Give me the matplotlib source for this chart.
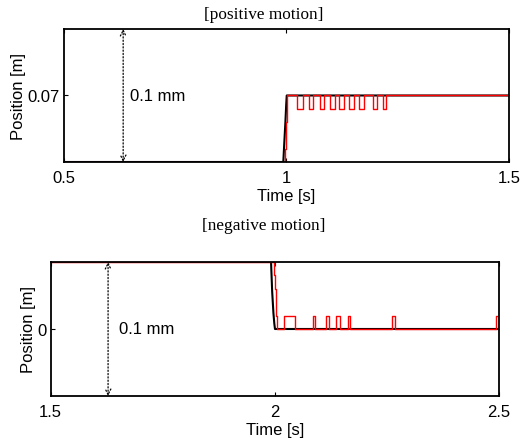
import matplotlib
matplotlib.use("Agg")
import matplotlib.pyplot as plt
import numpy as np

# ---------------- data ----------------
# positive motion (top)
pos_xticks = [0.5, 1.0, 1.5]
pos_xticklabels = ["0.5", "1", "1.5"]
pos_yticks = [0.07]
pos_yticklabels = ["0.07"]
pos_ylim = (0.06995, 0.07005)

pos_ref_t = [0.5, 0.9929, 0.9952, 0.9976, 0.9994, 1.0006, 1.5]
pos_ref_y = [0.06995, 0.06995, 0.069965, 0.06998, 0.069993, 0.07, 0.07]

pos_rise_t = [0.9966, 0.9976, 0.9986, 0.9997, 1.0008, 1.0018]
pos_rise_y = [0.06995, 0.06996, 0.06997, 0.06998, 0.06999, 0.07000]
pos_pulse_start = [1.0236, 1.0506, 1.0760, 1.0978, 1.1191, 1.1416, 1.1629, 1.1951, 1.2164]
pos_pulse_end = [1.0378, 1.0596, 1.0854, 1.1090, 1.1303, 1.1517, 1.1742, 1.2045, 1.2247]
pos_pulse_level = 0.06999
pos_final = 0.07

# negative motion (bottom)
neg_xticks = [1.5, 2.0, 2.5]
neg_xticklabels = ["1.5", "2", "2.5"]
neg_yticks = [0.0]
neg_yticklabels = ["0"]
neg_ylim = (-5e-5, 5e-5)

neg_ref_t = [1.5, 1.9915, 1.9940, 1.9968, 1.9988, 2.0003, 2.5]
neg_ref_y = [5e-5, 5e-5, 2.8e-5, 1.2e-5, 0.4e-5, 0.0, 0.0]

neg_fall_t = [1.9980, 1.9992, 2.0004, 2.0016, 2.0027, 2.0037]
neg_fall_y = [5e-5, 4e-5, 3e-5, 2e-5, 1e-5, 0.0]
neg_pulse_start = [2.0204, 2.0844, 2.1141, 2.1364, 2.1638, 2.2607, 2.4926]
neg_pulse_end = [2.0443, 2.0896, 2.1201, 2.1453, 2.1683, 2.2680, 2.4995]
neg_pulse_level = 1e-5
neg_final = 0.0

arrow_label = "0.1 mm"

# ---------------- helpers ----------------
def build_steps(t0, y0, ramp_t, ramp_y, starts, ends, level, final, t_end):
    ts = [t0]
    ys = [y0]
    ts += list(ramp_t)
    ys += list(ramp_y)
    for s, e in zip(starts, ends):
        ts += [s, e]
        ys += [level, final]
    ts.append(t_end)
    ys.append(final)
    return ts, ys

SANS = ["Liberation Sans", "DejaVu Sans"]
SERIF = ["Liberation Serif", "DejaVu Serif"]
FS = 12

fig = plt.figure(figsize=(5.21, 4.39), dpi=100)

def style_axes(ax, xticks, xtl, yticks, ytl):
    ax.set_xticks(xticks)
    ax.set_xticklabels(xtl, family=SANS, fontsize=FS)
    ax.set_yticks(yticks)
    ax.set_yticklabels(ytl, family=SANS, fontsize=FS)
    ax.tick_params(direction="in", top=True, right=True, length=3, width=0.8)
    ax.tick_params(axis="x", pad=6)
    ax.tick_params(axis="y", pad=3)
    for sp in ax.spines.values():
        sp.set_linewidth(1.3)
    ax.set_xlabel("Time [s]", family=SANS, fontsize=FS, labelpad=2)
    ax.set_ylabel("Position [m]", family=SANS, fontsize=FS, labelpad=1)

# top axes
ax1 = fig.add_axes([0.1228, 0.6287, 0.8541, 0.3030])
ax1.plot(pos_ref_t, pos_ref_y, color="black", lw=1.5, clip_on=True)
t, y = build_steps(0.5, pos_ylim[0], pos_rise_t, pos_rise_y, pos_pulse_start,
                   pos_pulse_end, pos_pulse_level, pos_final, 1.5)
ax1.plot(t, y, color="#ff0000", lw=1.0, drawstyle="steps-post")
ax1.set_xlim(0.5, 1.5)
ax1.set_ylim(*pos_ylim)
style_axes(ax1, pos_xticks, pos_xticklabels, pos_yticks, pos_yticklabels)
ax1.annotate("", xy=(0.633, 1.0), xytext=(0.633, 0.0),
             xycoords=("data", "axes fraction"), textcoords=("data", "axes fraction"),
             arrowprops=dict(arrowstyle="<->", linestyle=":", lw=0.9, color="black",
                             shrinkA=0, shrinkB=0))
ax1.text(0.648, 0.07, arrow_label, family=SANS, fontsize=FS, va="center", ha="left")

# bottom axes
ax2 = fig.add_axes([0.0973, 0.0957, 0.8605, 0.3052])
ax2.plot(neg_ref_t, neg_ref_y, color="black", lw=1.5)
t, y = build_steps(1.5, neg_ylim[1], neg_fall_t, neg_fall_y, neg_pulse_start,
                   neg_pulse_end, neg_pulse_level, neg_final, 2.5)
ax2.plot(t, y, color="#ff0000", lw=1.0, drawstyle="steps-post")
ax2.set_xlim(1.5, 2.5)
ax2.set_ylim(*neg_ylim)
style_axes(ax2, neg_xticks, neg_xticklabels, neg_yticks, neg_yticklabels)
ax2.annotate("", xy=(1.628, 1.0), xytext=(1.628, 0.0),
             xycoords=("data", "axes fraction"), textcoords=("data", "axes fraction"),
             arrowprops=dict(arrowstyle="<->", linestyle=":", lw=0.9, color="black",
                             shrinkA=0, shrinkB=0))
ax2.text(1.652, 0.0, arrow_label, family=SANS, fontsize=FS, va="center", ha="left")

fig.text(0.506, 1 - 15 / 439, "[positive motion]", family=SERIF, fontsize=12.4,
         ha="center", va="center")
fig.text(0.506, 1 - 226 / 439, "[negative motion]", family=SERIF, fontsize=12.4,
         ha="center", va="center")

fig.savefig("out.png", dpi=100)
